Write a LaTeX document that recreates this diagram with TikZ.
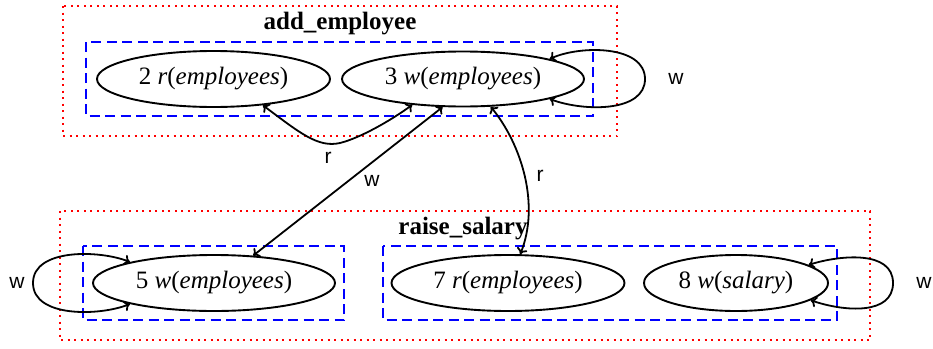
\documentclass[tikz,border=0pt]{standalone}
\usepackage{fontspec}
\setmainfont{Liberation Serif}
\newfontfamily\lsans{Liberation Sans}
\usetikzlibrary{shapes.geometric,arrows.meta}
\begin{document}
\begin{tikzpicture}[x=1pt,y=-1pt,
  op/.style={draw,ellipse,line width=1.9pt,inner sep=0pt,
    font=\fontsize{25}{28}\selectfont},
  cluster/.style={draw=red,line width=2.2pt,dash pattern=on 2pt off 4.5pt},
  grp/.style={draw=blue,line width=2pt,dash pattern=on 10pt off 5.5pt},
  ctitle/.style={font=\fontsize{25}{28}\selectfont\bfseries},
  elabel/.style={font=\lsans\fontsize{21}{24}\selectfont},
  conn/.style={line width=1.8pt,{To[length=6pt,width=11pt]}-{To[length=6pt,width=11pt]}}
]
\useasboundingbox (0,0) rectangle (933,348);
% clusters
\draw[cluster] (63,6) rectangle (617,136);
\draw[cluster] (60,211) rectangle (870,340);
\draw[grp] (86,42) rectangle (593,116);
\draw[grp] (83,246) rectangle (344,320);
\draw[grp] (383,246) rectangle (837,320);
\node[ctitle] (t1) at (340,24) {add\_employee};
\node[ctitle] (t2) at (463,229) {raise\_salary};
% operations
\node[op,minimum width=233pt,minimum height=56pt] (e2) at (213.5,79) {2 \textit{r}(\textit{employees})};
\node[op,minimum width=242pt,minimum height=55pt] (e3) at (463,79) {3 \textit{w}(\textit{employees})};
\node[op,minimum width=242pt,minimum height=56pt] (e5) at (214,283) {5 \textit{w}(\textit{employees})};
\node[op,minimum width=233pt,minimum height=56pt] (e7) at (508,283) {7 \textit{r}(\textit{employees})};
\node[op,minimum width=184pt,minimum height=56pt] (e8) at (736,283) {8 \textit{w}(\textit{salary})};
% connectors
\draw[conn] (e2.-28) .. controls (300,133) and (318,148) .. (340,143)
  .. controls (360,138) and (390,121) .. (e3.-153);
\node[elabel] (lr1) at (328,158) {r};
\draw[conn] (e3.-126) -- (e5.35);
\node[elabel] (lw1) at (372,181) {w};
\draw[conn] (e3.-45) .. controls (522,145) and (540,205) .. (e7.67);
\node[elabel] (lr2) at (540,176) {r};
\draw[conn] (e3.13) .. controls (580,45) and (645,45) .. (645,79)
  .. controls (645,112) and (585,112) .. (e3.-13);
\node[elabel] (lw2) at (676,79) {w};
\draw[conn] (e5.166) .. controls (100,250) and (33,248) .. (33,283)
  .. controls (33,318) and (100,316) .. (e5.-166);
\node[elabel] (lw3) at (17,283) {w};
\draw[conn] (e8.14) .. controls (840,255) and (893,250) .. (893,283)
  .. controls (893,315) and (845,312) .. (e8.-13);
\node[elabel] (lw4) at (924,283) {w};
\end{tikzpicture}
\end{document}
